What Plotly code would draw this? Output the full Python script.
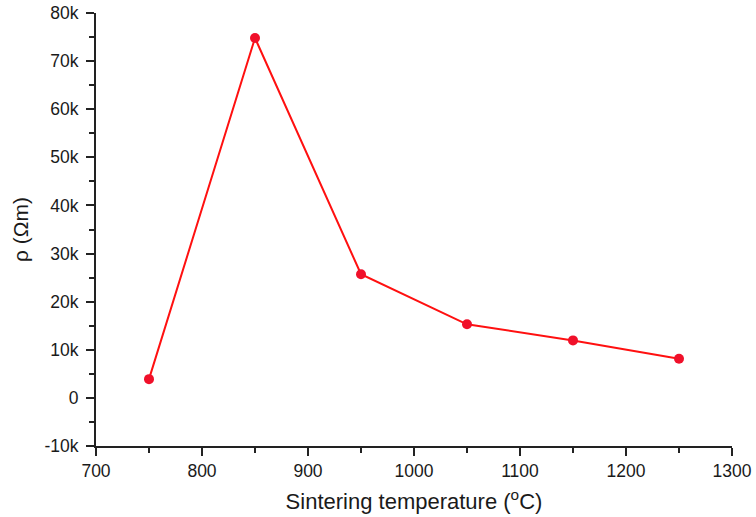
import plotly.graph_objects as go

temperature = [750, 850, 950, 1050, 1150, 1250]
resistivity = [3900, 74800, 25700, 15300, 11950, 8150]

x_tickvals = [700, 800, 900, 1000, 1100, 1200, 1300]
x_ticktext = ["700", "800", "900", "1000", "1100", "1200", "1300"]
y_tickvals = [-10000, 0, 10000, 20000, 30000, 40000, 50000, 60000, 70000, 80000]
y_ticktext = ["-10k", "0", "10k", "20k", "30k", "40k", "50k", "60k", "70k", "80k"]

FONT = "Liberation Sans, Arial, sans-serif"

fig = go.Figure()
fig.add_trace(go.Scatter(
    x=temperature, y=resistivity, mode="lines+markers",
    line=dict(color="#ff1010", width=2),
    marker=dict(color="#f0102a", size=10, line=dict(width=0)),
    showlegend=False,
))

axis_common = dict(
    showgrid=False, zeroline=False, showline=True, linecolor="#222222", linewidth=2,
    ticks="outside", ticklen=8, tickwidth=1.5, tickcolor="#222222",
    tickfont=dict(family=FONT, size=17.5, color="#1a1a1a"),
    mirror=False, automargin=False,
)

fig.update_xaxes(
    range=[700, 1300], tickvals=x_tickvals, ticktext=x_ticktext,
    minor=dict(ticks="outside", ticklen=5, tickwidth=1.5, tickcolor="#222222", dtick=50, tick0=700),
    title=dict(text="Sintering temperature (<sup>o</sup>C)",
               font=dict(family=FONT, size=22, color="#1a1a1a"),
               standoff=14),
    **axis_common,
)
fig.update_yaxes(
    range=[-10000, 80000], tickvals=y_tickvals, ticktext=y_ticktext,
    minor=dict(ticks="outside", ticklen=5, tickwidth=1.5, tickcolor="#222222", dtick=5000, tick0=0),
    title=dict(text="ρ (Ωm)",
               font=dict(family=FONT, size=21, color="#1a1a1a"),
               standoff=10),
    ticklabelstandoff=4,
    **axis_common,
)

fig.update_layout(
    width=756, height=517,
    margin=dict(l=96, r=24, t=13, b=71),
    plot_bgcolor="white", paper_bgcolor="white",
)

fig.write_html("out.html")
